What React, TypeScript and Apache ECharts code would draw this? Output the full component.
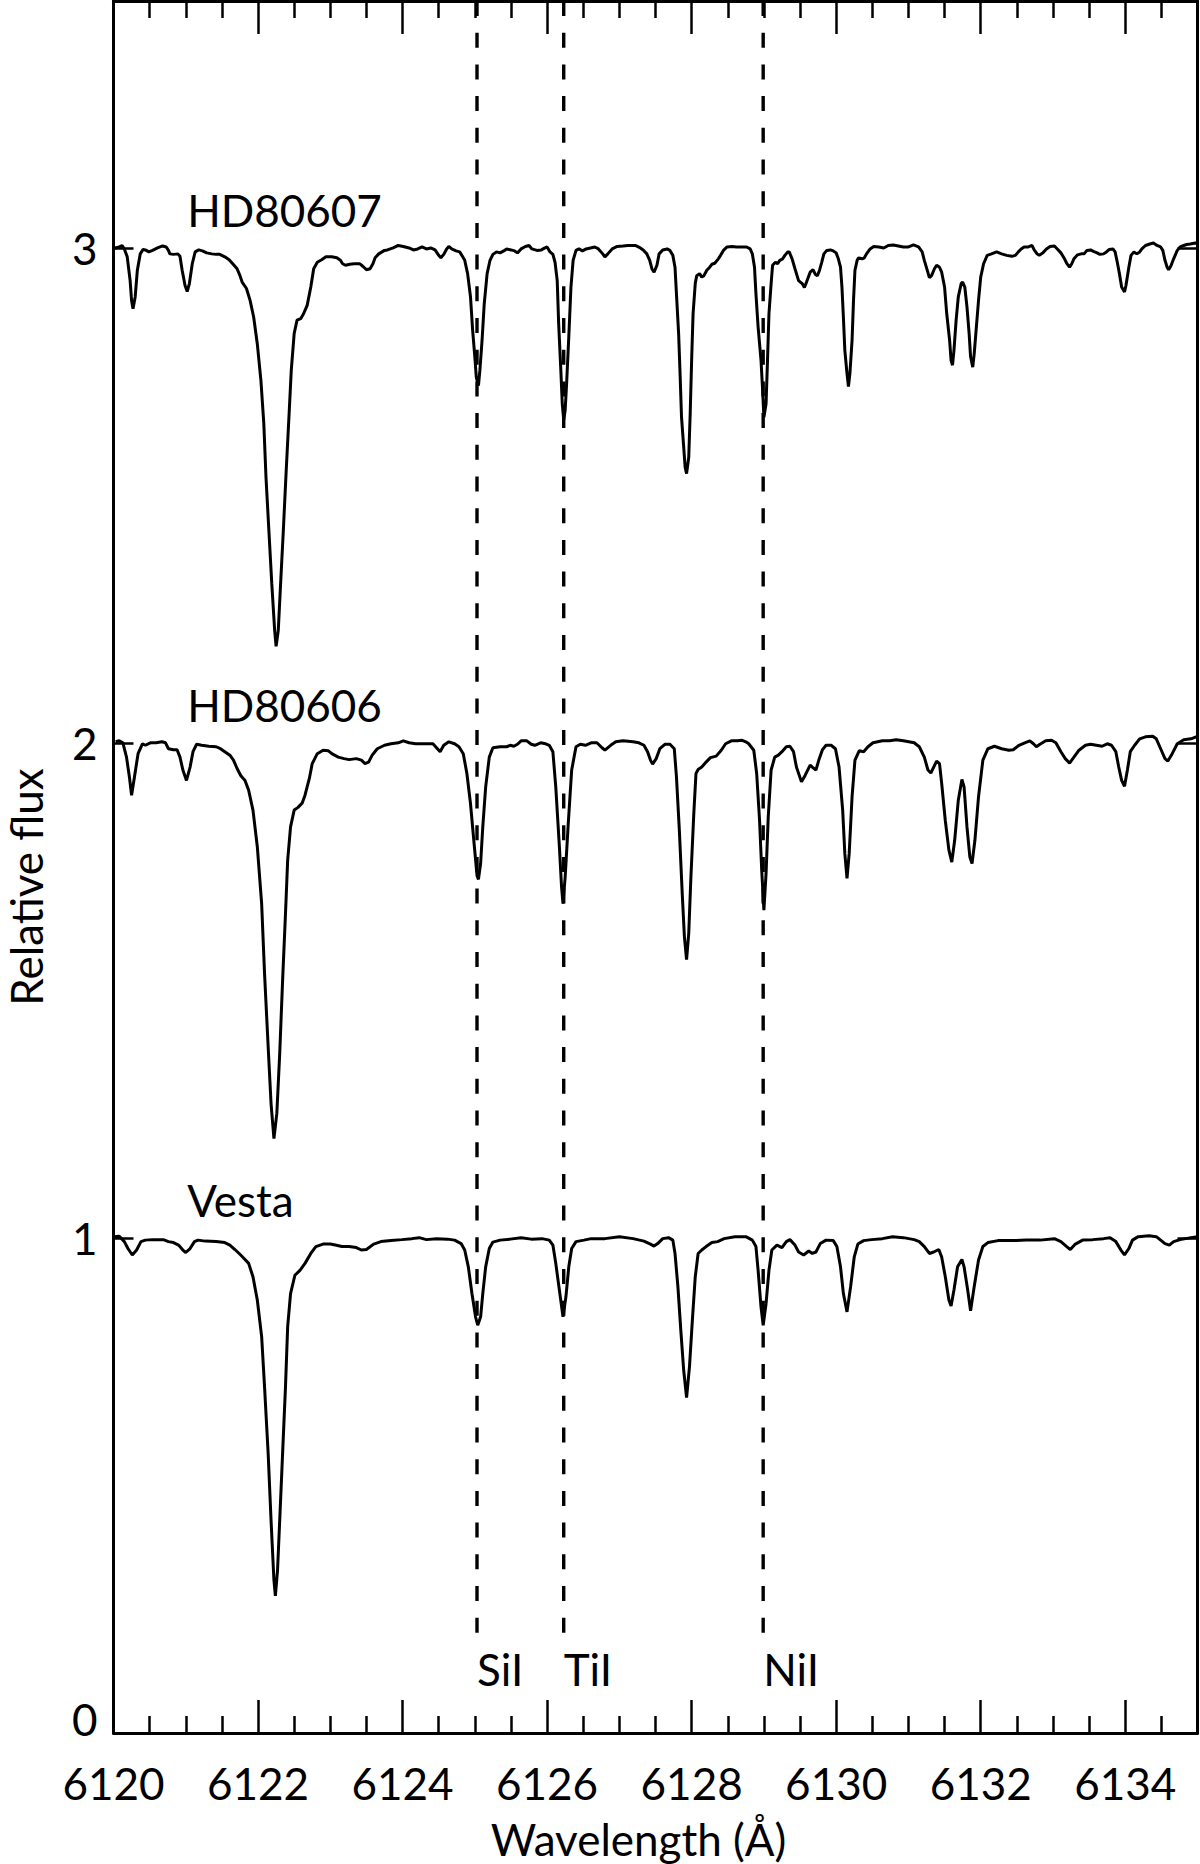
import React, { useEffect, useRef } from "react";
import * as echarts from "echarts";

// ---- Data (normalised flux; 1 = continuum) ----
const hd80607: [number, number][] = [
  [6120.02,1.001],[6120.08,1.003],[6120.12,1.006],[6120.15,0.999],[6120.19,0.983],[6120.23,0.935],[6120.25,0.895],[6120.27,0.878],[6120.30,0.902],[6120.33,0.956],[6120.37,0.989],[6120.41,0.998],[6120.44,0.997],[6120.49,0.993],[6120.54,0.996],[6120.61,1.001],[6120.68,1.005],[6120.73,1.003],[6120.76,0.996],[6120.78,0.989],[6120.83,0.988],[6120.89,0.989],[6120.92,0.984],[6120.95,0.956],[6120.99,0.925],[6121.02,0.913],[6121.05,0.929],[6121.09,0.969],[6121.13,0.993],[6121.18,0.997],[6121.23,0.995],[6121.29,0.991],[6121.36,0.989],[6121.42,0.988],[6121.47,0.988],[6121.54,0.983],[6121.60,0.977],[6121.65,0.969],[6121.71,0.959],[6121.75,0.945],[6121.78,0.932],[6121.84,0.919],[6121.89,0.895],[6121.94,0.861],[6121.99,0.807],[6122.04,0.733],[6122.08,0.646],[6122.11,0.538],[6122.15,0.430],[6122.19,0.323],[6122.23,0.228],[6122.25,0.196],[6122.28,0.228],[6122.31,0.316],[6122.35,0.430],[6122.39,0.552],[6122.43,0.666],[6122.46,0.754],[6122.50,0.828],[6122.54,0.855],[6122.59,0.858],[6122.63,0.868],[6122.68,0.885],[6122.73,0.922],[6122.77,0.959],[6122.82,0.972],[6122.88,0.977],[6122.94,0.983],[6123.02,0.983],[6123.09,0.981],[6123.14,0.976],[6123.17,0.969],[6123.21,0.966],[6123.27,0.968],[6123.33,0.969],[6123.41,0.969],[6123.45,0.964],[6123.50,0.957],[6123.55,0.959],[6123.59,0.969],[6123.62,0.981],[6123.67,0.989],[6123.75,0.996],[6123.79,0.997],[6123.87,1.001],[6123.94,1.006],[6124.01,1.004],[6124.09,1.001],[6124.15,0.997],[6124.21,0.999],[6124.27,1.003],[6124.33,0.999],[6124.39,1.001],[6124.45,0.997],[6124.50,0.986],[6124.53,0.981],[6124.57,0.988],[6124.61,0.999],[6124.64,1.004],[6124.68,0.999],[6124.74,0.995],[6124.79,0.993],[6124.82,0.986],[6124.86,0.976],[6124.90,0.949],[6124.94,0.902],[6124.97,0.834],[6125.00,0.781],[6125.02,0.740],[6125.05,0.723],[6125.07,0.754],[6125.10,0.814],[6125.13,0.888],[6125.17,0.949],[6125.21,0.976],[6125.25,0.988],[6125.30,0.993],[6125.35,0.991],[6125.40,0.995],[6125.44,0.999],[6125.50,0.997],[6125.55,0.995],[6125.59,0.991],[6125.64,0.999],[6125.70,1.004],[6125.75,1.006],[6125.79,0.999],[6125.86,0.996],[6125.92,0.997],[6125.97,1.001],[6126.00,1.003],[6126.04,0.993],[6126.08,0.988],[6126.11,0.972],[6126.14,0.935],[6126.16,0.848],[6126.19,0.754],[6126.21,0.686],[6126.23,0.653],[6126.25,0.673],[6126.27,0.727],[6126.30,0.821],[6126.33,0.922],[6126.36,0.976],[6126.40,0.996],[6126.44,0.999],[6126.49,0.995],[6126.54,0.999],[6126.60,1.001],[6126.66,1.003],[6126.71,0.999],[6126.77,0.989],[6126.80,0.983],[6126.84,0.989],[6126.90,0.999],[6126.97,1.004],[6127.05,1.005],[6127.12,1.006],[6127.22,1.006],[6127.29,1.001],[6127.33,0.997],[6127.38,0.989],[6127.42,0.976],[6127.45,0.959],[6127.48,0.952],[6127.52,0.966],[6127.55,0.989],[6127.60,0.997],[6127.66,0.999],[6127.70,0.996],[6127.74,0.986],[6127.77,0.962],[6127.79,0.908],[6127.82,0.828],[6127.84,0.747],[6127.86,0.659],[6127.89,0.599],[6127.91,0.558],[6127.93,0.545],[6127.96,0.578],[6127.98,0.666],[6128.00,0.774],[6128.02,0.868],[6128.05,0.929],[6128.07,0.945],[6128.11,0.949],[6128.14,0.942],[6128.17,0.945],[6128.21,0.956],[6128.25,0.962],[6128.28,0.968],[6128.32,0.970],[6128.37,0.979],[6128.40,0.986],[6128.44,0.996],[6128.49,1.003],[6128.56,1.004],[6128.62,1.003],[6128.69,1.003],[6128.76,1.003],[6128.81,0.999],[6128.84,0.989],[6128.87,0.962],[6128.89,0.908],[6128.92,0.841],[6128.96,0.774],[6128.98,0.720],[6129.00,0.659],[6129.03,0.686],[6129.05,0.774],[6129.07,0.868],[6129.10,0.929],[6129.12,0.966],[6129.16,0.972],[6129.19,0.969],[6129.22,0.976],[6129.26,0.979],[6129.29,0.986],[6129.33,0.993],[6129.35,0.993],[6129.39,0.979],[6129.43,0.959],[6129.48,0.935],[6129.53,0.929],[6129.56,0.921],[6129.59,0.932],[6129.64,0.952],[6129.68,0.957],[6129.71,0.948],[6129.74,0.945],[6129.77,0.956],[6129.80,0.972],[6129.83,0.989],[6129.87,0.996],[6129.92,0.997],[6129.96,0.995],[6130.00,0.991],[6130.03,0.979],[6130.06,0.962],[6130.08,0.922],[6130.10,0.861],[6130.12,0.794],[6130.15,0.747],[6130.17,0.721],[6130.19,0.747],[6130.22,0.814],[6130.24,0.895],[6130.26,0.956],[6130.29,0.976],[6130.31,0.981],[6130.36,0.979],[6130.39,0.981],[6130.42,0.989],[6130.47,0.999],[6130.52,1.004],[6130.59,1.003],[6130.66,1.001],[6130.72,1.006],[6130.79,1.007],[6130.86,1.005],[6130.93,1.003],[6131.00,1.003],[6131.07,1.007],[6131.14,1.003],[6131.19,0.993],[6131.22,0.976],[6131.26,0.956],[6131.29,0.941],[6131.32,0.945],[6131.36,0.959],[6131.39,0.966],[6131.43,0.962],[6131.46,0.952],[6131.50,0.922],[6131.53,0.868],[6131.57,0.814],[6131.59,0.774],[6131.61,0.764],[6131.63,0.794],[6131.66,0.855],[6131.69,0.902],[6131.73,0.929],[6131.75,0.932],[6131.78,0.922],[6131.81,0.882],[6131.84,0.828],[6131.86,0.781],[6131.89,0.760],[6131.91,0.787],[6131.94,0.841],[6131.97,0.895],[6132.00,0.942],[6132.04,0.969],[6132.09,0.986],[6132.15,0.989],[6132.22,0.993],[6132.29,0.989],[6132.36,0.986],[6132.43,0.984],[6132.48,0.986],[6132.52,0.993],[6132.56,0.999],[6132.60,1.003],[6132.66,1.003],[6132.71,1.006],[6132.74,0.997],[6132.78,0.989],[6132.81,0.986],[6132.86,0.991],[6132.91,0.999],[6132.96,1.004],[6133.02,1.005],[6133.06,0.999],[6133.11,0.991],[6133.16,0.979],[6133.19,0.970],[6133.23,0.962],[6133.26,0.969],[6133.29,0.979],[6133.34,0.987],[6133.39,0.989],[6133.43,0.989],[6133.47,0.996],[6133.52,0.997],[6133.56,0.994],[6133.61,0.991],[6133.65,0.988],[6133.70,0.989],[6133.74,0.993],[6133.78,0.998],[6133.83,0.999],[6133.86,0.993],[6133.89,0.972],[6133.92,0.949],[6133.95,0.922],[6133.99,0.912],[6134.01,0.925],[6134.05,0.962],[6134.08,0.986],[6134.12,0.993],[6134.16,0.989],[6134.20,0.993],[6134.23,0.999],[6134.28,1.006],[6134.34,1.009],[6134.39,1.011],[6134.44,1.006],[6134.49,1.003],[6134.52,0.996],[6134.55,0.976],[6134.58,0.962],[6134.60,0.957],[6134.63,0.964],[6134.67,0.979],[6134.72,0.996],[6134.76,1.003],[6134.81,1.006],[6134.85,1.008],[6134.90,1.009],[6134.97,1.011],[6135.00,1.009]
];

const hd80606: [number, number][] = [
  [6120.03,1.003],[6120.08,1.005],[6120.13,1.001],[6120.18,0.972],[6120.22,0.932],[6120.25,0.895],[6120.29,0.932],[6120.34,0.979],[6120.40,0.999],[6120.44,0.996],[6120.51,1.001],[6120.59,1.001],[6120.67,1.003],[6120.72,1.001],[6120.76,0.989],[6120.83,0.987],[6120.88,0.987],[6120.92,0.972],[6120.96,0.946],[6121.01,0.925],[6121.06,0.952],[6121.10,0.983],[6121.15,0.998],[6121.22,0.996],[6121.32,0.994],[6121.42,0.993],[6121.48,0.989],[6121.54,0.983],[6121.61,0.976],[6121.66,0.966],[6121.71,0.949],[6121.76,0.935],[6121.82,0.925],[6121.87,0.905],[6121.93,0.865],[6121.99,0.791],[6122.05,0.676],[6122.09,0.535],[6122.14,0.387],[6122.18,0.272],[6122.22,0.201],[6122.26,0.252],[6122.30,0.373],[6122.34,0.521],[6122.38,0.656],[6122.41,0.764],[6122.45,0.831],[6122.50,0.865],[6122.55,0.870],[6122.61,0.879],[6122.65,0.895],[6122.71,0.929],[6122.75,0.959],[6122.82,0.979],[6122.90,0.986],[6122.97,0.985],[6123.02,0.979],[6123.11,0.972],[6123.19,0.969],[6123.26,0.967],[6123.36,0.969],[6123.43,0.966],[6123.48,0.959],[6123.53,0.962],[6123.58,0.976],[6123.65,0.989],[6123.75,0.996],[6123.84,0.999],[6123.94,1.001],[6124.01,1.005],[6124.09,1.001],[6124.18,0.999],[6124.33,0.999],[6124.42,0.999],[6124.47,0.991],[6124.52,0.983],[6124.57,0.996],[6124.64,1.003],[6124.72,0.999],[6124.78,0.993],[6124.84,0.979],[6124.89,0.939],[6124.94,0.878],[6124.99,0.797],[6125.03,0.733],[6125.05,0.725],[6125.08,0.757],[6125.11,0.831],[6125.15,0.912],[6125.20,0.972],[6125.25,0.991],[6125.35,0.993],[6125.44,0.993],[6125.49,0.996],[6125.54,0.994],[6125.59,0.998],[6125.64,1.005],[6125.72,1.005],[6125.78,0.998],[6125.83,0.996],[6125.91,1.001],[6125.98,0.999],[6126.03,0.996],[6126.08,0.983],[6126.12,0.912],[6126.17,0.791],[6126.20,0.710],[6126.22,0.676],[6126.25,0.730],[6126.29,0.831],[6126.34,0.946],[6126.40,0.993],[6126.46,0.998],[6126.53,0.996],[6126.61,1.001],[6126.69,1.001],[6126.76,0.991],[6126.80,0.986],[6126.88,0.996],[6126.95,1.003],[6127.05,1.005],[6127.19,1.003],[6127.27,1.001],[6127.34,0.996],[6127.39,0.983],[6127.43,0.966],[6127.46,0.958],[6127.51,0.969],[6127.56,0.989],[6127.63,0.998],[6127.70,0.998],[6127.76,0.989],[6127.79,0.932],[6127.83,0.824],[6127.87,0.696],[6127.90,0.609],[6127.93,0.563],[6127.96,0.616],[6127.99,0.730],[6128.03,0.858],[6128.06,0.939],[6128.09,0.947],[6128.14,0.952],[6128.20,0.962],[6128.26,0.971],[6128.34,0.974],[6128.41,0.986],[6128.47,0.999],[6128.55,1.005],[6128.63,1.005],[6128.70,1.006],[6128.75,1.003],[6128.79,0.999],[6128.86,0.986],[6128.90,0.939],[6128.94,0.844],[6128.97,0.743],[6129.00,0.663],[6129.03,0.737],[6129.06,0.851],[6129.10,0.946],[6129.15,0.972],[6129.20,0.976],[6129.25,0.983],[6129.31,0.993],[6129.36,0.994],[6129.41,0.983],[6129.45,0.952],[6129.52,0.922],[6129.57,0.935],[6129.64,0.956],[6129.67,0.952],[6129.72,0.946],[6129.76,0.966],[6129.81,0.987],[6129.86,0.996],[6129.93,0.996],[6129.99,0.989],[6130.04,0.952],[6130.09,0.865],[6130.12,0.777],[6130.15,0.727],[6130.18,0.777],[6130.22,0.892],[6130.26,0.966],[6130.32,0.985],[6130.38,0.983],[6130.44,0.993],[6130.51,1.001],[6130.64,1.005],[6130.74,1.005],[6130.83,1.007],[6130.93,1.005],[6131.08,1.001],[6131.15,0.993],[6131.22,0.972],[6131.27,0.946],[6131.31,0.940],[6131.35,0.952],[6131.39,0.964],[6131.43,0.959],[6131.46,0.919],[6131.51,0.844],[6131.56,0.784],[6131.60,0.760],[6131.64,0.804],[6131.69,0.885],[6131.74,0.927],[6131.77,0.912],[6131.81,0.831],[6131.85,0.770],[6131.88,0.757],[6131.92,0.804],[6131.97,0.892],[6132.03,0.966],[6132.10,0.989],[6132.19,0.994],[6132.29,0.989],[6132.39,0.986],[6132.45,0.987],[6132.53,0.996],[6132.61,1.001],[6132.68,1.005],[6132.73,0.999],[6132.77,0.993],[6132.82,0.998],[6132.90,1.005],[6132.98,1.006],[6133.04,1.001],[6133.11,0.983],[6133.17,0.969],[6133.23,0.960],[6133.29,0.972],[6133.36,0.986],[6133.45,0.996],[6133.52,0.998],[6133.60,0.996],[6133.68,0.994],[6133.75,0.999],[6133.81,0.996],[6133.87,0.983],[6133.91,0.952],[6133.95,0.925],[6133.99,0.913],[6134.03,0.946],[6134.07,0.983],[6134.13,0.996],[6134.20,1.009],[6134.28,1.013],[6134.38,1.014],[6134.43,1.009],[6134.49,0.989],[6134.55,0.969],[6134.59,0.964],[6134.65,0.979],[6134.72,0.999],[6134.81,1.007],[6134.91,1.009],[6135.00,1.014]
];

const vesta: [number, number][] = [
  [6120.01,1.003],[6120.08,1.004],[6120.15,0.993],[6120.20,0.979],[6120.26,0.966],[6120.32,0.976],[6120.38,0.993],[6120.44,0.996],[6120.54,0.997],[6120.69,0.997],[6120.76,0.993],[6120.83,0.991],[6120.90,0.986],[6120.96,0.976],[6121.00,0.971],[6121.06,0.979],[6121.12,0.993],[6121.17,0.996],[6121.27,0.994],[6121.42,0.993],[6121.54,0.991],[6121.61,0.986],[6121.68,0.977],[6121.76,0.966],[6121.82,0.957],[6121.87,0.949],[6121.93,0.922],[6121.99,0.875],[6122.05,0.801],[6122.09,0.700],[6122.14,0.565],[6122.18,0.430],[6122.22,0.309],[6122.24,0.277],[6122.27,0.329],[6122.30,0.430],[6122.34,0.565],[6122.38,0.700],[6122.41,0.821],[6122.45,0.888],[6122.51,0.925],[6122.58,0.935],[6122.65,0.949],[6122.73,0.969],[6122.80,0.983],[6122.90,0.988],[6123.00,0.988],[6123.07,0.986],[6123.16,0.983],[6123.26,0.983],[6123.36,0.981],[6123.43,0.976],[6123.50,0.977],[6123.60,0.988],[6123.70,0.993],[6123.84,0.995],[6123.99,0.997],[6124.13,0.999],[6124.23,1.001],[6124.33,0.997],[6124.47,0.999],[6124.62,0.998],[6124.72,0.996],[6124.81,0.989],[6124.86,0.976],[6124.91,0.942],[6124.96,0.888],[6125.01,0.841],[6125.04,0.824],[6125.08,0.841],[6125.11,0.888],[6125.15,0.942],[6125.20,0.979],[6125.25,0.992],[6125.35,0.996],[6125.49,0.998],[6125.64,1.001],[6125.78,0.998],[6125.93,0.999],[6126.03,0.996],[6126.08,0.986],[6126.12,0.949],[6126.17,0.895],[6126.22,0.841],[6126.26,0.881],[6126.30,0.942],[6126.34,0.979],[6126.40,0.993],[6126.51,0.996],[6126.61,0.999],[6126.80,0.999],[6127.00,1.003],[6127.19,0.999],[6127.34,0.994],[6127.43,0.988],[6127.48,0.984],[6127.53,0.989],[6127.60,0.999],[6127.68,1.001],[6127.74,0.996],[6127.77,0.969],[6127.81,0.902],[6127.85,0.814],[6127.89,0.733],[6127.93,0.678],[6127.97,0.740],[6128.01,0.834],[6128.05,0.922],[6128.09,0.969],[6128.14,0.976],[6128.20,0.983],[6128.28,0.991],[6128.36,0.993],[6128.45,0.999],[6128.60,1.003],[6128.75,1.003],[6128.84,0.996],[6128.89,0.983],[6128.92,0.935],[6128.96,0.861],[6128.99,0.824],[6129.03,0.868],[6129.07,0.935],[6129.11,0.976],[6129.18,0.986],[6129.25,0.981],[6129.31,0.993],[6129.36,0.997],[6129.43,0.986],[6129.48,0.972],[6129.55,0.966],[6129.62,0.974],[6129.67,0.969],[6129.72,0.972],[6129.78,0.989],[6129.86,0.996],[6129.96,0.995],[6130.01,0.983],[6130.06,0.942],[6130.10,0.888],[6130.15,0.851],[6130.20,0.902],[6130.25,0.962],[6130.30,0.988],[6130.38,0.995],[6130.49,0.997],[6130.64,0.999],[6130.78,1.003],[6130.93,1.001],[6131.08,0.997],[6131.15,0.993],[6131.22,0.983],[6131.29,0.969],[6131.35,0.972],[6131.42,0.977],[6131.46,0.962],[6131.51,0.922],[6131.56,0.875],[6131.59,0.863],[6131.63,0.895],[6131.68,0.942],[6131.74,0.957],[6131.77,0.942],[6131.82,0.895],[6131.86,0.853],[6131.91,0.902],[6131.97,0.956],[6132.03,0.983],[6132.10,0.991],[6132.24,0.995],[6132.43,0.995],[6132.63,0.996],[6132.82,0.996],[6133.02,0.999],[6133.11,0.993],[6133.19,0.983],[6133.24,0.977],[6133.31,0.988],[6133.41,0.996],[6133.55,0.997],[6133.70,0.999],[6133.79,1.001],[6133.87,0.993],[6133.94,0.976],[6133.99,0.966],[6134.05,0.979],[6134.10,0.996],[6134.18,1.003],[6134.33,1.005],[6134.43,1.003],[6134.49,0.996],[6134.55,0.989],[6134.61,0.986],[6134.67,0.993],[6134.76,0.997],[6134.91,1.001],[6135.00,1.003]
];

const starNames = ["HD80607", "HD80606", "Vesta"];
const starOffsets = [2, 1, 0];
const lineNames = ["SiI", "TiI", "NiI"];
const lineWavelengths = [6125.03, 6126.23, 6128.99];
const dashTop = 3.5;
const dashBottom = 0.2;
const xMin = 6120;
const xMax = 6135;
const yMin = 0;
const yMax = 3.5;

// label anchors in data units
const starLabelWavelength = 6121.02;
const starLabelLift = 1.077;
const lineLabelFlux = 0.129;

const FONT = 'Lato, "Liberation Sans", sans-serif';

export default function App() {
  const ref = useRef<HTMLDivElement>(null);

  useEffect(() => {
    if (!ref.current) return;
    const chart = echarts.init(ref.current, null, { renderer: "svg" });
    const spectra = [hd80607, hd80606, vesta];

    const axisLineStyle = { color: "#000", width: 3 };
    const tickStyle = { color: "#000", width: 2.5 };

    const xCommon = {
      type: "value" as const,
      min: xMin,
      max: xMax,
      interval: 2,
      axisLine: { show: true, onZero: false, lineStyle: axisLineStyle },
      axisTick: { show: true, inside: true, length: 33, lineStyle: tickStyle },
      minorTick: { show: true, splitNumber: 4, length: 17, lineStyle: tickStyle },
      splitLine: { show: false },
      minorSplitLine: { show: false },
    };
    const yCommon = {
      type: "value" as const,
      min: yMin,
      max: yMax,
      interval: 1,
      axisLine: { show: true, onZero: false, lineStyle: axisLineStyle },
      axisTick: { show: true, inside: true, length: 20, lineStyle: tickStyle },
      splitLine: { show: false },
    };

    const option: any = {
      animation: false,
      backgroundColor: "#fff",
      grid: {
        left: 113.5,
        right: 2.5,
        top: 1,
        bottom: 131,
        containLabel: false,
        outerBoundsMode: "none",
      },
      xAxis: [
        {
          ...xCommon,
          position: "bottom",
          name: "Wavelength (Å)",
          nameLocation: "middle",
          nameGap: 84,
          nameTextStyle: {
            fontFamily: FONT,
            fontSize: 44,
            color: "#000",
            lineHeight: 44,
            padding: [0, 34, 0, 0],
          },
          axisLabel: {
            show: true,
            margin: 28,
            fontFamily: FONT,
            fontSize: 44,
            lineHeight: 44,
            color: "#000",
            showMaxLabel: false,
            formatter: (v: number) => (v % 2 === 0 ? String(v) : ""),
          },
        },
        { ...xCommon, position: "top", axisLabel: { show: false } },
      ],
      yAxis: [
        {
          ...yCommon,
          position: "left",
          name: "Relative flux",
          nameLocation: "middle",
          nameGap: 66,
          nameRotate: 90,
          nameTextStyle: {
            fontFamily: FONT,
            fontSize: 44,
            color: "#000",
            lineHeight: 44,
            padding: [0, 40, 0, 0],
          },
          axisLabel: {
            show: true,
            margin: 16,
            fontFamily: FONT,
            fontSize: 44,
            color: "#000",
            showMaxLabel: false,
            formatter: (v: number) =>
              v === 0 ? "{z|0}" : Number.isInteger(v) ? String(v) : "",
            rich: {
              z: { fontFamily: FONT, fontSize: 44, color: "#000", padding: [0, 0, 28, 0] },
            },
          },
        },
        { ...yCommon, position: "right", axisLabel: { show: false } },
      ],
      series: [
        ...spectra.map((s, i) => ({
          type: "line",
          name: starNames[i],
          xAxisIndex: 0,
          yAxisIndex: 0,
          data: s.map(([w, f]) => [w, f + starOffsets[i]]),
          showSymbol: false,
          symbol: "none",
          clip: true,
          lineStyle: { color: "#000", width: 3 },
          z: 3,
        })),
        ...lineWavelengths.map((w, i) => ({
          type: "line",
          name: lineNames[i],
          xAxisIndex: 0,
          yAxisIndex: 0,
          data: [
            [w, dashTop],
            [w, dashBottom],
          ],
          showSymbol: false,
          symbol: "none",
          silent: true,
          lineStyle: { color: "#000", width: 3.4, type: [15, 16.7] },
          z: 2,
        })),
      ],
    };
    chart.setOption(option);

    const graphics: any[] = [];
    starNames.forEach((n, i) => {
      const p = chart.convertToPixel({ xAxisIndex: 0, yAxisIndex: 0 }, [
        starLabelWavelength,
        starOffsets[i] + starLabelLift,
      ]) as number[];
      graphics.push({
        type: "text",
        x: p[0],
        y: p[1],
        style: {
          text: n,
          fontFamily: FONT,
          fontSize: 44,
          fill: "#000",
          align: "left",
          verticalAlign: "middle",
        },
      });
    });
    lineNames.forEach((n, i) => {
      const p = chart.convertToPixel({ xAxisIndex: 0, yAxisIndex: 0 }, [
        lineWavelengths[i],
        lineLabelFlux,
      ]) as number[];
      graphics.push({
        type: "text",
        x: p[0],
        y: p[1],
        style: {
          text: n,
          fontFamily: FONT,
          fontSize: 44,
          fill: "#000",
          align: "left",
          verticalAlign: "middle",
        },
      });
    });
    chart.setOption({ graphic: graphics });

    return () => chart.dispose();
  }, []);

  return (
    <div
      ref={ref}
      style={{ position: "absolute", left: 0, top: 0, width: 1200, height: 1864, background: "#fff" }}
    />
  );
}
